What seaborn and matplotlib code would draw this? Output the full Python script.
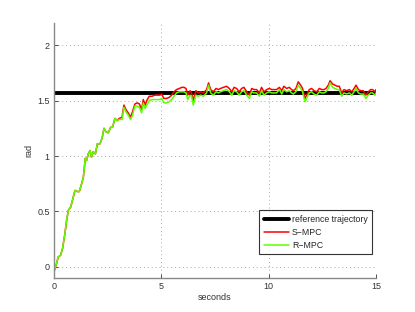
import numpy as np
import pandas as pd
import seaborn as sns
import matplotlib
matplotlib.use("Agg")
import matplotlib.pyplot as plt

# time stamps (seconds)
t = [0.00, 0.12, 0.20, 0.31, 0.40, 0.51, 0.59, 0.67, 0.78, 0.90, 0.98, 1.09, 1.18, 1.29, 1.37,
     1.46, 1.52, 1.60, 1.68, 1.75, 1.83, 1.93, 2.02, 2.14, 2.24, 2.33, 2.42, 2.53, 2.64, 2.73,
     2.84, 2.95, 3.04, 3.17, 3.26, 3.35, 3.46, 3.57, 3.66, 3.77, 3.88, 3.98, 4.08, 4.16, 4.25,
     4.32, 4.44, 4.57, 4.70, 4.81, 4.94, 5.02, 5.12, 5.25, 5.37, 5.48, 5.59, 5.71, 5.84, 5.95,
     6.06, 6.15, 6.23, 6.34, 6.41, 6.49, 6.61, 6.72, 6.83, 6.96, 7.11, 7.20, 7.30, 7.42, 7.55,
     7.66, 7.76, 7.89, 8.04, 8.17, 8.28, 8.39, 8.51, 8.63, 8.74, 8.85, 8.98, 9.10, 9.21, 9.32,
     9.44, 9.57, 9.67, 9.78, 9.91, 10.03, 10.14, 10.25, 10.37, 10.50, 10.61, 10.71, 10.84, 10.96, 11.07,
     11.15, 11.27, 11.38, 11.49, 11.58, 11.69, 11.77, 11.89, 12.00, 12.11, 12.24, 12.36, 12.47, 12.58, 12.67,
     12.78, 12.86, 12.98, 13.09, 13.20, 13.29, 13.40, 13.51, 13.63, 13.76, 13.87, 13.98, 14.07, 14.18, 14.29,
     14.41, 14.53, 14.64, 14.75, 14.84, 14.95, 15.00]

s_mpc = [-0.045, 0.03, 0.09, 0.105, 0.166, 0.30, 0.42, 0.51, 0.54, 0.63, 0.69, 0.68, 0.68, 0.75, 0.81,
         0.98, 0.96, 1.02, 1.05, 0.99, 1.04, 1.02, 1.11, 1.11, 1.16, 1.25, 1.22, 1.21, 1.26, 1.26,
         1.34, 1.32, 1.34, 1.35, 1.46, 1.42, 1.39, 1.35, 1.40, 1.47, 1.48, 1.47, 1.42, 1.51, 1.46,
         1.50, 1.54, 1.54, 1.55, 1.55, 1.55, 1.56, 1.52, 1.52, 1.53, 1.55, 1.58, 1.60, 1.61, 1.62,
         1.62, 1.61, 1.55, 1.59, 1.57, 1.50, 1.59, 1.57, 1.58, 1.57, 1.60, 1.66, 1.60, 1.58, 1.61,
         1.60, 1.61, 1.62, 1.63, 1.61, 1.58, 1.62, 1.61, 1.58, 1.61, 1.62, 1.58, 1.55, 1.61, 1.60,
         1.60, 1.57, 1.62, 1.58, 1.60, 1.61, 1.60, 1.60, 1.60, 1.62, 1.59, 1.63, 1.61, 1.62, 1.60,
         1.59, 1.61, 1.67, 1.64, 1.61, 1.52, 1.55, 1.60, 1.61, 1.59, 1.58, 1.61, 1.60, 1.60, 1.61,
         1.64, 1.68, 1.65, 1.64, 1.63, 1.63, 1.57, 1.60, 1.59, 1.60, 1.58, 1.61, 1.64, 1.60, 1.59,
         1.59, 1.55, 1.58, 1.60, 1.60, 1.58, 1.60]

r_mpc = [-0.045, 0.03, 0.09, 0.105, 0.166, 0.30, 0.42, 0.51, 0.54, 0.63, 0.69, 0.68, 0.68, 0.75, 0.81,
         0.98, 0.96, 1.02, 1.05, 0.99, 1.04, 1.02, 1.11, 1.11, 1.16, 1.25, 1.22, 1.21, 1.26, 1.26,
         1.34, 1.32, 1.33, 1.33, 1.44, 1.40, 1.37, 1.33, 1.37, 1.45, 1.45, 1.44, 1.39, 1.48, 1.43,
         1.46, 1.50, 1.51, 1.51, 1.51, 1.51, 1.52, 1.48, 1.48, 1.49, 1.51, 1.54, 1.57, 1.58, 1.58,
         1.58, 1.57, 1.51, 1.55, 1.54, 1.46, 1.55, 1.54, 1.55, 1.54, 1.57, 1.64, 1.57, 1.55, 1.58,
         1.57, 1.58, 1.59, 1.60, 1.58, 1.55, 1.59, 1.58, 1.55, 1.58, 1.59, 1.55, 1.52, 1.58, 1.57,
         1.57, 1.54, 1.59, 1.55, 1.57, 1.58, 1.57, 1.57, 1.57, 1.60, 1.56, 1.60, 1.58, 1.59, 1.57,
         1.56, 1.58, 1.64, 1.61, 1.58, 1.49, 1.52, 1.57, 1.58, 1.56, 1.55, 1.58, 1.57, 1.57, 1.58,
         1.61, 1.66, 1.62, 1.61, 1.60, 1.60, 1.54, 1.57, 1.56, 1.57, 1.55, 1.58, 1.61, 1.57, 1.56,
         1.56, 1.52, 1.55, 1.57, 1.57, 1.55, 1.57]

ref_t = [0, 15]
ref_val = [1.5708, 1.5708]

sns.set_style("white")
plt.rcParams['font.family'] = ['Liberation Sans', 'DejaVu Sans']

fig = plt.figure(figsize=(4.15, 3.12), dpi=100)
ax = fig.add_axes([0.130, 0.109, 0.776, 0.817])

sns.lineplot(x=ref_t, y=ref_val, ax=ax, color='black', linewidth=2.8, label='reference trajectory')
sns.lineplot(x=t, y=s_mpc, ax=ax, color='#ff0000', linewidth=1.1, label='S\u2212MPC')
sns.lineplot(x=t, y=r_mpc, ax=ax, color='#5cff00', linewidth=1.1, label='R\u2212MPC')

ax.set_xlim(0, 15)
ax.set_ylim(-0.1, 2.2)
ax.set_xticks([0, 5, 10, 15])
ax.set_yticks([0, 0.5, 1, 1.5, 2])
ax.set_xticklabels(['0', '5', '10', '15'])
ax.set_yticklabels(['0', '0.5', '1', '1.5', '2'])
ax.grid(True, linestyle=(0, (1, 3)), color='#a8a8a8', linewidth=0.7)
ax.tick_params(axis='both', direction='in', length=3, width=0.6, labelsize=6.5,
               colors='#333333', left=True, bottom=True, pad=3)
for side in ['top', 'right']:
    ax.spines[side].set_visible(False)
for side in ['left', 'bottom']:
    ax.spines[side].set_color('#888888')
    ax.spines[side].set_linewidth(1.0)

ax.set_xlabel('seconds', fontsize=6.5, color='#333333', labelpad=1)
ax.set_ylabel('rad', fontsize=6.5, color='#333333', labelpad=3)

leg = ax.legend(loc='lower right', bbox_to_anchor=(0.988, 0.094), fontsize=6.3,
                frameon=True, fancybox=False, edgecolor='black', handlelength=2.9,
                borderpad=0.5, labelspacing=0.45, handletextpad=0.35, borderaxespad=0)
leg.get_frame().set_linewidth(0.8)

fig.savefig('out.png', dpi=100)
